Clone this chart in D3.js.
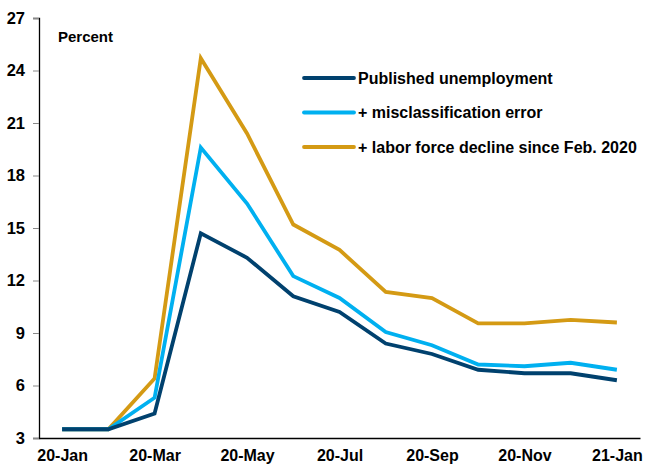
<!DOCTYPE html>
<html><head><meta charset="utf-8">
<script src="https://cdn.jsdelivr.net/npm/d3@7"></script>
<style>body{margin:0;background:#fff}svg{display:block;font-family:"Liberation Sans",Arial,sans-serif;font-weight:bold}</style>
</head><body><svg id="c" width="645" height="466"></svg>
<script>
const months = ["20-Jan","20-Feb","20-Mar","20-Apr","20-May","20-Jun","20-Jul","20-Aug","20-Sep","20-Oct","20-Nov","20-Dec","21-Jan"];
const xTickLabels = ["20-Jan","20-Mar","20-May","20-Jul","20-Sep","20-Nov","21-Jan"];
const yTicks = [3,6,9,12,15,18,21,24,27];
const published = [3.5,3.5,4.4,14.7,13.3,11.1,10.2,8.4,7.8,6.9,6.7,6.7,6.3];
const misclass = [3.5,3.5,5.3,19.6,16.4,12.25,11.0,9.05,8.3,7.2,7.1,7.3,6.9];
const laborForce = [3.5,3.5,6.4,24.7,20.4,15.2,13.75,11.35,11.0,9.55,9.55,9.75,9.6];
const seriesNames = ["Published unemployment","+ misclassification error","+ labor force decline since Feb. 2020"];
const colors = ["#00416e","#00b0f0","#d49a14"];

const svg = d3.select("#c");
const x = d3.scalePoint().domain(months).range([39,640]).padding(0.5);
const y = d3.scaleLinear().domain([3,27]).range([438,18]);

// y axis
const ya = svg.append("g").attr("transform","translate(39,0)")
  .call(d3.axisLeft(y).tickValues(yTicks).tickSize(6).tickPadding(8));
ya.select(".domain").attr("stroke","#000").attr("stroke-width",1.3);
ya.selectAll(".tick line").attr("stroke","#888");
ya.selectAll(".tick text").attr("font-size",16.5).attr("font-weight","bold").attr("fill","#000").attr("font-family","Liberation Sans, Arial, sans-serif");

// x axis
const xa = svg.append("g").attr("transform","translate(0,438)")
  .call(d3.axisBottom(x).tickValues(xTickLabels).tickSize(0).tickPadding(12));
xa.select(".domain").attr("stroke","#000").attr("stroke-width",1.3);
xa.selectAll(".tick text").attr("font-size",16).attr("font-weight","bold").attr("fill","#000").attr("font-family","Liberation Sans, Arial, sans-serif");

svg.append("text").attr("x",58).attr("y",42).attr("font-size",15).text("Percent");

const line = d3.line().x((d,i)=>x(months[i])).y(d=>y(d));
const all = [published, misclass, laborForce];
[laborForce, misclass, published].forEach(s=>{
  const idx = all.indexOf(s);
  svg.append("path").datum(s).attr("d",line).attr("fill","none")
    .attr("stroke",colors[idx]).attr("stroke-width",3.8).attr("stroke-linejoin","miter");
});

// legend
const lg = svg.append("g");
seriesNames.forEach((n,i)=>{
  const ly = 78 + i*34.5;
  lg.append("line").attr("x1",304).attr("x2",354).attr("y1",ly).attr("y2",ly)
    .attr("stroke",colors[i]).attr("stroke-width",3.8).attr("stroke-linecap","round");
  lg.append("text").attr("x",358).attr("y",ly+5.5).attr("font-size",16).text(n);
});
</script></body></html>
